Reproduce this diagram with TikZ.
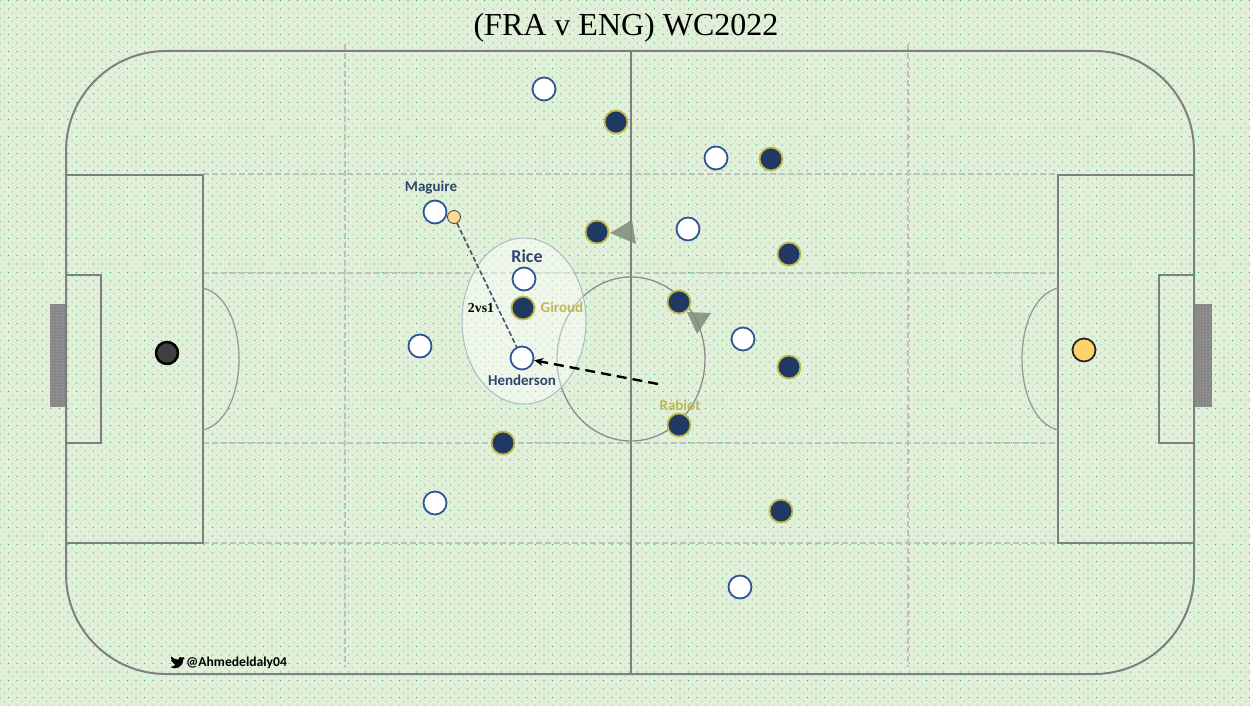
\documentclass[tikz,border=0pt]{standalone}
\usepackage{fontspec}
\setmainfont{Liberation Serif}
\newfontfamily\calib{Carlito}
\usepackage{tikz}
\usetikzlibrary{arrows.meta, patterns.meta}

\definecolor{turf}{HTML}{E2EFD9}
\definecolor{turfdot}{HTML}{1FB55A}
\definecolor{turflight}{HTML}{A9DDB4}
\definecolor{chalk}{HTML}{7F7F7F}
\definecolor{zone}{HTML}{BFBFBF}
\definecolor{engblue}{HTML}{2F5597}
\definecolor{franavy}{HTML}{203864}
\definecolor{fraring}{HTML}{BFB94C}
\definecolor{labnavy}{HTML}{2E4570}
\definecolor{labgold}{HTML}{C2B652}
\definecolor{keepgold}{HTML}{FFD36B}
\definecolor{ballcol}{HTML}{FFD891}
\definecolor{runline}{HTML}{44546A}
\definecolor{press}{HTML}{7E8C7C}
\definecolor{haze}{HTML}{A9BCC6}

\begin{document}
\begin{tikzpicture}[x=1pt, y=-1pt,
  line/.style={draw=chalk, line width=1.3pt},
  zoneline/.style={draw=zone, line width=1.3pt, dash pattern=on 6pt off 3pt},
  eng/.style={circle, draw=engblue, fill=white, line width=1.8pt, minimum size=23pt, inner sep=0pt},
  fra/.style={circle, draw=fraring, fill=franavy, line width=1.8pt, minimum size=23pt, inner sep=0pt},
  plabel/.style={font=\calib\bfseries\fontsize{15}{18}\selectfont, text=labnavy, inner sep=0pt},
  goldlabel/.style={plabel, text=labgold},
  arrowtri/.style={fill=press, fill opacity=0.85}]
  \useasboundingbox (0,0) rectangle (1250,706);
  % Turf
  \fill[turf] (0,0) rectangle (1250,706);
  \fill[pattern={Dots[distance=8.5pt, radius=0.8pt, xshift=4.25pt, yshift=4.25pt]}, pattern color=turflight] (0,0) rectangle (1250,706);
  \fill[pattern={Dots[distance=8.5pt, radius=0.65pt]}, pattern color=turfdot] (0,0) rectangle (1250,706);
  % Title
  \node[font=\fontsize{32}{36}\selectfont] (title) at (626,28) {(FRA v ENG) WC2022};
  % Nets
  \foreach \gx/\gw in {50/16, 1194/18} {
    \fill[gray!95] (\gx,304) rectangle ++(\gw,103);
    \fill[pattern={Dots[distance=3pt, radius=0.5pt]}, pattern color=gray!40] (\gx,304) rectangle ++(\gw,103);
  }
  % Zones
  \foreach \zx in {345, 908} \draw[zoneline] (\zx,44) -- (\zx,667);
  \foreach \zy in {174, 273, 443, 543} \draw[zoneline] (203,\zy) -- (1058,\zy);
  % Pitch
  \draw[draw=chalk, line width=2pt, rounded corners=100pt] (66,51) rectangle (1194,674);
  \draw[line] (631,51) -- (631,674);
  \draw[line] (66,175) rectangle (203,543);
  \draw[line] (66,275) rectangle (101,443);
  \draw[line] (1058,175) rectangle (1194,543);
  \draw[line] (1159,275) rectangle (1194,443);
  \draw[line, draw=chalk!80] (203,288) .. controls (251,300) and (251,418) .. (203,430);
  \draw[line, draw=chalk!80] (1058,288) .. controls (1010,300) and (1010,418) .. (1058,430);
  \draw[line, draw=chalk!90] (631,359) ellipse [x radius=74pt, y radius=82pt];
  % Zone around Rice / Henderson
  \filldraw[fill=white, fill opacity=0.45, draw=haze, line width=1pt] (524,321) ellipse [x radius=62pt, y radius=83pt];
  % Pressing arrows
  \fill[arrowtri] (610,233) -- (632,220) -- (636,244) -- cycle;
  \fill[arrowtri] (687,312) -- (711,313) -- (697,334) -- cycle;
  % Keepers
  \node[circle, draw=black, fill=black!75, line width=2.5pt, minimum size=22pt, inner sep=0pt] (gkfra) at (167,353) {};
  \node[circle, draw=black!85, fill=keepgold, line width=1.8pt, minimum size=23pt, inner sep=0pt] (gkeng) at (1084,350) {};
  % England
  \node[eng] (e1) at (544,89) {};
  \node[eng] (e2) at (716,158) {};
  \node[eng] (maguire) at (435,212) {};
  \node[eng] (e4) at (688,229) {};
  \node[eng] (rice) at (524,279) {};
  \node[eng] (e6) at (420,346) {};
  \node[eng] (henderson) at (522,358) {};
  \node[eng] (e8) at (743,339) {};
  \node[eng] (e9) at (435,503) {};
  \node[eng] (e10) at (740,587) {};
  % France
  \node[fra] (f1) at (616,122) {};
  \node[fra] (f2) at (771,159) {};
  \node[fra] (f3) at (597,232) {};
  \node[fra] (f4) at (789,254) {};
  \node[fra] (giroud) at (523,308) {};
  \node[fra] (f6) at (679,302) {};
  \node[fra] (f7) at (789,367) {};
  \node[fra] (rabiot) at (679,425) {};
  \node[fra] (f9) at (503,443) {};
  \node[fra] (f10) at (781,511) {};
  % Ball and passes
  \node[circle, draw=black!75, fill=ballcol, line width=0.8pt, minimum size=13pt, inner sep=0pt] (ball) at (454,217) {};
  \draw[runline, line width=1.6pt, dash pattern=on 5pt off 2.5pt] (ball) -- (henderson);
  \coordinate (runfrom) at (658,384);
  \draw[-{Stealth[length=9pt, width=8pt]}, line width=2.4pt, dash pattern=on 10pt off 6pt] (runfrom) -- (henderson);
  % Labels
  \node[plabel] (lmaguire) at (431,188) {Maguire};
  \node[plabel, font=\calib\bfseries\fontsize{18}{20}\selectfont] (lrice) at (527,256) {Rice};
  \node[plabel] (lhenderson) at (522,380) {Henderson};
  \node[goldlabel] (lgiroud) at (562,307) {Giroud};
  \node[goldlabel] (lrabiot) at (680,405) {Rabiot};
  \node[font=\bfseries\fontsize{13.8}{16}\selectfont, inner sep=0pt] (ltwo) at (481,308) {2vs1};
  % Signature
  \begin{scope}[shift={(170,669)}, yscale=-1]
    \fill[black] (0,2) .. controls (5,-1) and (13,1) .. (13.2,9.5) -- (14.8,11) -- (13.3,10.6)
      -- (14,12) -- (12.6,11.4) .. controls (10.8,13) and (8,12) .. (8.2,9.3)
      .. controls (5,9.5) and (2.5,11) .. (1.2,12.5) .. controls (0.6,11) and (1,9.5) .. (2.2,8.7)
      -- (1.2,8.8) .. controls (1.4,7.5) and (2.3,6.6) .. (3.6,6.3)
      -- (2.6,6.2) .. controls (3.2,5) and (4.2,4.3) .. (5.5,4.3)
      .. controls (4,2.8) and (2,2.2) .. (0,2) -- cycle;
  \end{scope}
  \node[font=\calib\bfseries\fontsize{13.6}{16}\selectfont, anchor=west, inner sep=0pt] (handle) at (186,663) {@Ahmedeldaly04};
\end{tikzpicture}
\end{document}
